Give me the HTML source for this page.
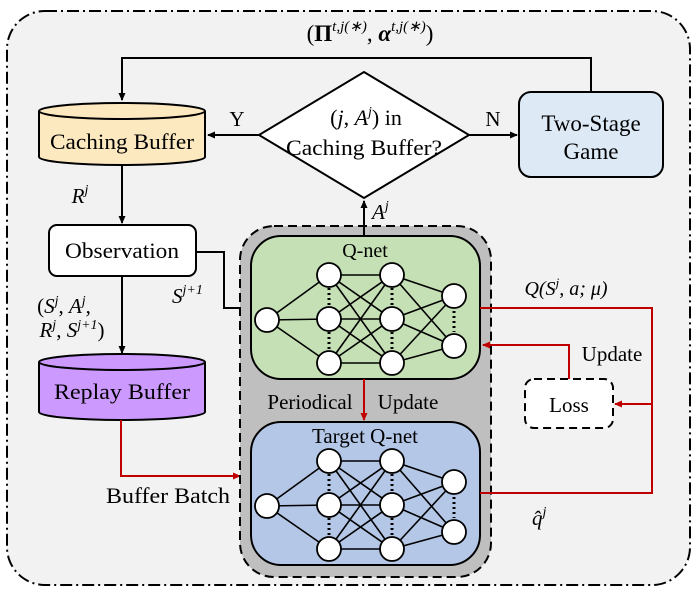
<!DOCTYPE html>
<html><head><meta charset="utf-8"><style>
html,body{margin:0;padding:0;background:#fff;}
svg{display:block;}
text{font-family:"Liberation Serif",serif;fill:#000;}
.m{font-style:italic;}
</style></head><body>
<svg width="698" height="592" viewBox="0 0 698 592" xmlns="http://www.w3.org/2000/svg">
<defs>
<marker id="ab" markerWidth="8" markerHeight="8" refX="7" refY="4" orient="auto" markerUnits="userSpaceOnUse"><path d="M0,0.5 L8,4 L0,7.5 z" fill="#000"/></marker>
<marker id="ar" markerWidth="8" markerHeight="8" refX="7" refY="4" orient="auto" markerUnits="userSpaceOnUse"><path d="M0,0.5 L8,4 L0,7.5 z" fill="#c00000"/></marker>
</defs>
<rect x="7" y="11" width="683" height="574" rx="38" fill="#f2f2f2" stroke="#000" stroke-width="2" stroke-dasharray="12,4,2,4"/>
<text x="370" y="41" font-size="23" text-anchor="middle">(<tspan font-weight="bold">Π</tspan><tspan class="m" font-size="15" dy="-10">t,j(∗)</tspan><tspan dy="10">, </tspan><tspan font-weight="bold" class="m">α</tspan><tspan class="m" font-size="15" dy="-10">t,j(∗)</tspan><tspan dy="10">)</tspan></text>
<polyline points="591,92 591,58 122,58 122,100" fill="none" stroke="#000" stroke-width="2" marker-end="url(#ab)"/>
<path d="M39,111 L39,157 A83,8 0 0 0 205,157 L205,111" fill="#fde9c0" stroke="#000" stroke-width="2"/>
<ellipse cx="122" cy="111" rx="83" ry="8" fill="#fde9c0" stroke="#000" stroke-width="2"/>
<text x="122" y="149" font-size="22" text-anchor="middle" textLength="144" lengthAdjust="spacingAndGlyphs">Caching Buffer</text>
<polygon points="364,72 469,135 364,198 259,135" fill="#fff" stroke="#000" stroke-width="2"/>
<text x="366" y="125" font-size="22" text-anchor="middle">(<tspan class="m">j</tspan>, <tspan class="m">A</tspan><tspan class="m" font-size="14" dy="-9">j</tspan><tspan dy="9">) in</tspan></text>
<text x="364" y="155" font-size="22" text-anchor="middle" textLength="156" lengthAdjust="spacingAndGlyphs">Caching Buffer?</text>
<line x1="259" y1="135" x2="208" y2="135" stroke="#000" stroke-width="2" marker-end="url(#ab)"/>
<line x1="469" y1="135" x2="517" y2="135" stroke="#000" stroke-width="2" marker-end="url(#ab)"/>
<text x="237" y="126" font-size="21" text-anchor="middle">Y</text>
<text x="493" y="126" font-size="21" text-anchor="middle">N</text>
<rect x="519" y="92" width="144" height="85" rx="12" fill="#dde9f5" stroke="#000" stroke-width="2"/>
<text x="591" y="131" font-size="23" text-anchor="middle">Two-Stage</text>
<text x="591" y="159" font-size="23" text-anchor="middle">Game</text>
<line x1="122" y1="166" x2="122" y2="223" stroke="#000" stroke-width="2" marker-end="url(#ab)"/>
<text x="80" y="203" font-size="21" class="m" text-anchor="middle">R<tspan font-size="14" dy="-9">j</tspan></text>
<rect x="49" y="225" width="147" height="51" rx="8" fill="#fff" stroke="#000" stroke-width="2"/>
<text x="122" y="258" font-size="22" text-anchor="middle" textLength="114" lengthAdjust="spacingAndGlyphs">Observation</text>
<line x1="122" y1="276" x2="122" y2="353" stroke="#000" stroke-width="2" marker-end="url(#ab)"/>
<text x="64" y="313" font-size="21" text-anchor="middle">(<tspan class="m">S</tspan><tspan class="m" font-size="14" dy="-8">j</tspan><tspan dy="8">, </tspan><tspan class="m">A</tspan><tspan class="m" font-size="14" dy="-8">j</tspan><tspan dy="8">,</tspan></text>
<text x="72" y="337" font-size="21" text-anchor="middle"><tspan class="m">R</tspan><tspan class="m" font-size="14" dy="-8">j</tspan><tspan dy="8">, </tspan><tspan class="m">S</tspan><tspan class="m" font-size="14" dy="-8">j+1</tspan><tspan dy="8">)</tspan></text>
<polyline points="196,252 224,252 224,308 248,308" fill="none" stroke="#000" stroke-width="2" marker-end="url(#ab)"/>
<text x="172" y="303" font-size="21" class="m">S<tspan font-size="14" dy="-9">j+1</tspan></text>
<path d="M39,362 L39,412 A83,8 0 0 0 205,412 L205,362" fill="#cc99ff" stroke="#000" stroke-width="2"/>
<ellipse cx="122" cy="362" rx="83" ry="8" fill="#cc99ff" stroke="#000" stroke-width="2"/>
<text x="122" y="399" font-size="22" text-anchor="middle" textLength="136" lengthAdjust="spacingAndGlyphs">Replay Buffer</text>
<polyline points="121,420 121,476 240,476" fill="none" stroke="#c00000" stroke-width="2" marker-end="url(#ar)"/>
<text x="168" y="503" font-size="22" text-anchor="middle" textLength="124" lengthAdjust="spacingAndGlyphs">Buffer Batch</text>
<rect x="240" y="226" width="251" height="351" rx="34" fill="#bfbfbf" stroke="#000" stroke-width="2" stroke-dasharray="9,5"/>
<line x1="364" y1="236" x2="364" y2="201" stroke="#000" stroke-width="2" marker-end="url(#ab)"/>
<text x="372" y="219" font-size="21" class="m">A<tspan font-size="14" dy="-9">j</tspan></text>
<rect x="251" y="236" width="229" height="143" rx="30" fill="#c5e0b4" stroke="#000" stroke-width="2"/>
<text x="365" y="257" font-size="20" text-anchor="middle">Q-net</text>
<rect x="251" y="422" width="229" height="143" rx="30" fill="#b4c7e7" stroke="#000" stroke-width="2"/>
<text x="365" y="443" font-size="21" text-anchor="middle">Target Q-net</text>
<line x1="364" y1="379" x2="364" y2="420" stroke="#c00000" stroke-width="2" marker-end="url(#ar)"/>
<text x="310" y="409" font-size="21" text-anchor="middle">Periodical</text>
<text x="408" y="409" font-size="21" text-anchor="middle">Update</text>
<g id="net" stroke="#000" stroke-width="1.6">
<line x1="267" y1="320" x2="329" y2="275"/><line x1="267" y1="320" x2="329" y2="319"/><line x1="267" y1="320" x2="329" y2="363"/>
<line x1="329" y1="275" x2="392" y2="275"/><line x1="329" y1="275" x2="392" y2="319"/><line x1="329" y1="275" x2="392" y2="363"/>
<line x1="329" y1="319" x2="392" y2="275"/><line x1="329" y1="319" x2="392" y2="319"/><line x1="329" y1="319" x2="392" y2="363"/>
<line x1="329" y1="363" x2="392" y2="275"/><line x1="329" y1="363" x2="392" y2="319"/><line x1="329" y1="363" x2="392" y2="363"/>
<line x1="392" y1="275" x2="454" y2="296"/><line x1="392" y1="275" x2="454" y2="346"/>
<line x1="392" y1="319" x2="454" y2="296"/><line x1="392" y1="319" x2="454" y2="346"/>
<line x1="392" y1="363" x2="454" y2="296"/><line x1="392" y1="363" x2="454" y2="346"/>
<g fill="#fff" stroke-width="1.8">
<circle cx="267" cy="320" r="12"/>
<circle cx="329" cy="275" r="12"/><circle cx="329" cy="319" r="12"/><circle cx="329" cy="363" r="12"/>
<circle cx="392" cy="275" r="12"/><circle cx="392" cy="319" r="12"/><circle cx="392" cy="363" r="12"/>
<circle cx="454" cy="296" r="12"/><circle cx="454" cy="346" r="12"/>
</g>
<g stroke-width="3" stroke-dasharray="2,3">
<line x1="329" y1="288" x2="329" y2="307"/><line x1="329" y1="332" x2="329" y2="351"/>
<line x1="392" y1="288" x2="392" y2="307"/><line x1="392" y1="332" x2="392" y2="351"/>
<line x1="454" y1="311" x2="454" y2="332"/>
</g>
</g>
<use href="#net" transform="translate(0,186)"/>
<polyline points="480,308 652,308 652,493 480,493" fill="none" stroke="#c00000" stroke-width="2"/>
<line x1="652" y1="404" x2="615" y2="404" stroke="#c00000" stroke-width="2" marker-end="url(#ar)"/>
<rect x="525" y="379" width="88" height="49" rx="9" fill="#fff" stroke="#000" stroke-width="2" stroke-dasharray="8,5"/>
<text x="569" y="412" font-size="21" text-anchor="middle">Loss</text>
<polyline points="569,379 569,345 483,345" fill="none" stroke="#c00000" stroke-width="2" marker-end="url(#ar)"/>
<text x="612" y="361" font-size="21" text-anchor="middle">Update</text>
<text x="566" y="295" font-size="20" class="m" text-anchor="middle">Q(S<tspan font-size="13" dy="-8">j</tspan><tspan dy="8">, a; μ)</tspan></text>
<text x="532" y="525" font-size="21" class="m">q̂<tspan font-size="14" dy="-9">j</tspan></text>
</svg>
</body></html>
